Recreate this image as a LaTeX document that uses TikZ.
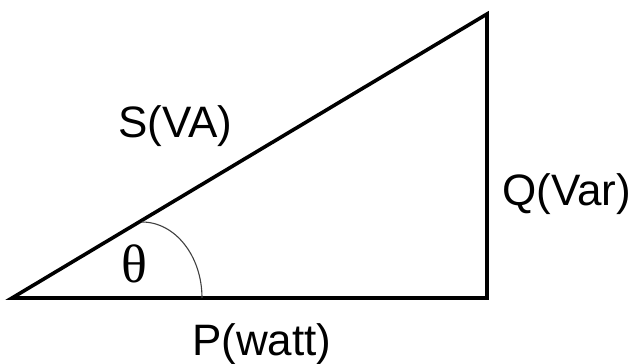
\documentclass[tikz,border=0pt]{standalone}
\usepackage{fontspec}
\setmainfont{Liberation Sans}
\newfontfamily\thetafont{Liberation Serif}
\usepackage{tikz}
\usetikzlibrary{positioning}
\tikzset{
  side/.style={draw, line width=3.6pt, line join=miter, line cap=rect},
  anglearc/.style={draw, line width=1.1pt, black!75},
  sidelabel/.style={inner sep=0pt, font=\fontsize{44}{50}\selectfont},
  anglelabel/.style={inner sep=0pt, font=\thetafont\fontsize{54}{60}\selectfont}
}

\begin{document}
\begin{tikzpicture}[x=1pt, y=-1pt]
  \useasboundingbox (0,0) rectangle (640,364);
  \coordinate (origin) at (12,298);
  \coordinate (corner) at (487,298);
  \coordinate (apex) at (487,14);
  \coordinate (arctop) at (142,222);

  \draw[side] (origin) -- (corner) -- (apex) -- cycle;
  \draw[anglearc] (arctop) arc[start angle=-90, end angle=0, x radius=60, y radius=76];

  \node[sidelabel, anchor=base west] (apparent) at (118,137) {S(VA)};
  \node[sidelabel, anchor=base west] (reactive) at (502,205) {Q(Var)};
  \node[sidelabel, anchor=base west] (active) at (192,355) {P(watt)};
  \node[anglelabel, anchor=base west] (theta) at (121,282) {θ};
\end{tikzpicture}
\end{document}
